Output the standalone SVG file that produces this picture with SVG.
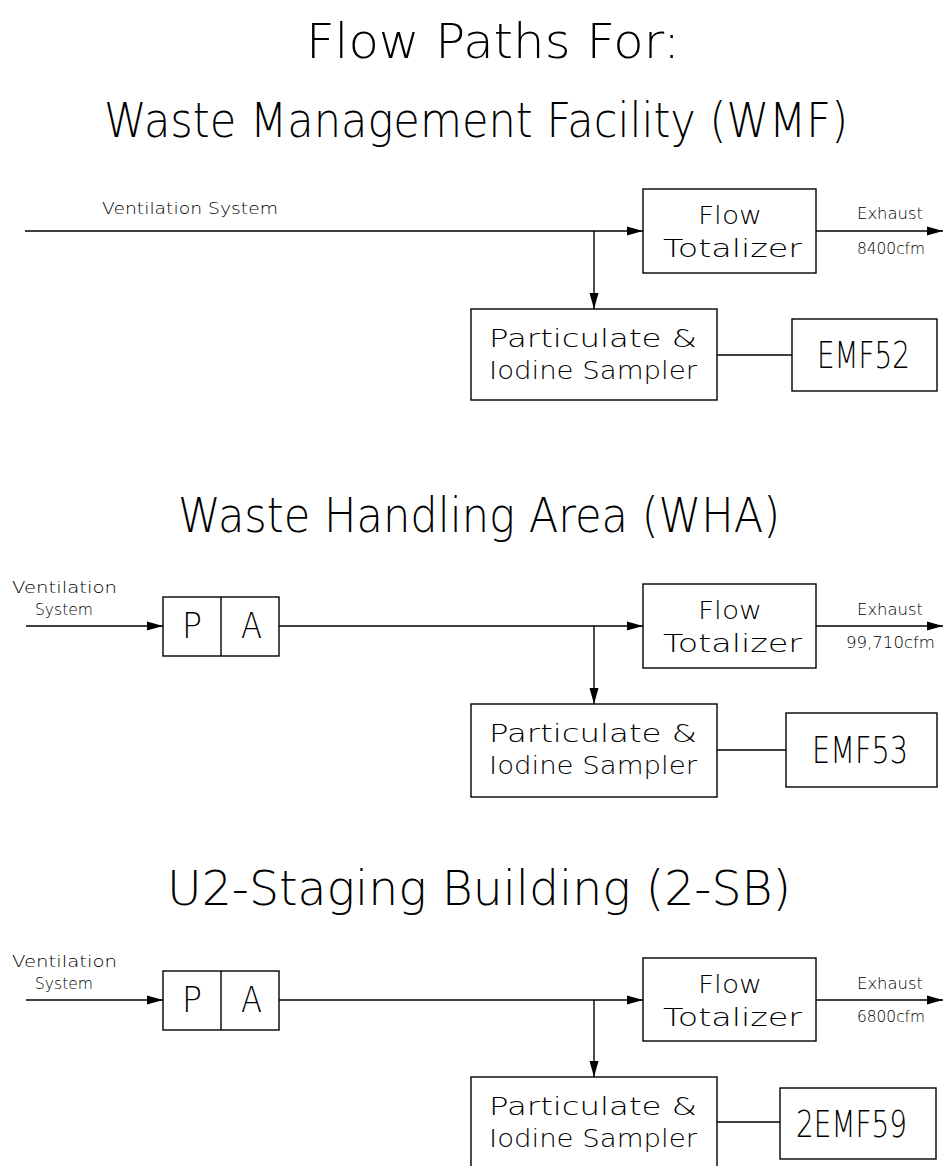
<svg xmlns="http://www.w3.org/2000/svg" width="943" height="1166" viewBox="0 0 943 1166">
<style>
.box{fill:none;stroke:#000;stroke-width:1.4}
.ln{fill:none;stroke:#000;stroke-width:1.4}
.arr{marker-end:url(#ah)}
text{font-family:"DejaVu Sans","Liberation Sans",sans-serif;font-weight:200;fill:#000}
.ttl{font-size:48px}
.bx{font-size:24px}
.em{font-size:37px}
.sm{font-size:15px}
.pa{font-size:36px}
</style>
<defs>
<marker id="ah" markerUnits="userSpaceOnUse" markerWidth="16" markerHeight="10" refX="16" refY="5" orient="auto">
<path d="M0,0.5 L16,5 L0,9.5 z" fill="#000"/>
</marker>
</defs>
<rect width="943" height="1166" fill="#fff"/>

<g id="titles">
<text class="ttl" x="306" y="58" textLength="374" lengthAdjust="spacingAndGlyphs">Flow Paths For:</text>
<text class="ttl" x="104" y="137" textLength="744" lengthAdjust="spacingAndGlyphs">Waste Management Facility (WMF)</text>
<text class="ttl" x="178" y="532" textLength="602" lengthAdjust="spacingAndGlyphs">Waste Handling Area (WHA)</text>
<text class="ttl" x="167" y="905" textLength="624" lengthAdjust="spacingAndGlyphs">U2-Staging Building (2-SB)</text>
</g>

<g id="connectors">
<line class="ln arr" x1="25" y1="231" x2="643" y2="231"/>
<line class="ln arr" x1="594" y1="231" x2="594" y2="309"/>
<line class="ln arr" x1="816" y1="231" x2="943" y2="231"/>
<line class="ln" x1="717" y1="355" x2="792" y2="355"/>
<line class="ln arr" x1="26" y1="626" x2="163" y2="626"/>
<line class="ln arr" x1="279" y1="626" x2="643" y2="626"/>
<line class="ln arr" x1="594" y1="626" x2="594" y2="704"/>
<line class="ln arr" x1="816" y1="626" x2="943" y2="626"/>
<line class="ln" x1="717" y1="750" x2="786" y2="750"/>
<line class="ln arr" x1="26" y1="1000" x2="163" y2="1000"/>
<line class="ln arr" x1="279" y1="1000" x2="643" y2="1000"/>
<line class="ln arr" x1="594" y1="1000" x2="594" y2="1077"/>
<line class="ln arr" x1="816" y1="1000" x2="943" y2="1000"/>
<line class="ln" x1="717" y1="1122" x2="780" y2="1122"/>
</g>

<g id="s1-labels">
<text class="sm" x="102" y="214" textLength="176" lengthAdjust="spacingAndGlyphs">Ventilation System</text>
<text class="sm" x="857" y="219" textLength="66" lengthAdjust="spacingAndGlyphs">Exhaust</text>
<text class="sm" x="857" y="254" textLength="68" lengthAdjust="spacingAndGlyphs">8400cfm</text>
</g>
<g id="s1-flow-totalizer">
<rect class="box" x="643" y="189" width="173" height="84"/>
<text class="bx" x="698" y="224" textLength="64" lengthAdjust="spacingAndGlyphs">Flow</text>
<text class="bx" x="663" y="257" textLength="139" lengthAdjust="spacingAndGlyphs">Totalizer</text>
</g>
<g id="s1-sampler">
<rect class="box" x="471" y="309" width="246" height="91"/>
<text class="bx" x="489" y="347" textLength="208" lengthAdjust="spacingAndGlyphs">Particulate &amp;</text>
<text class="bx" x="489" y="379" textLength="208" lengthAdjust="spacingAndGlyphs">Iodine Sampler</text>
</g>
<g id="s1-emf52">
<rect class="box" x="792" y="319" width="145" height="72"/>
<text class="em" x="817" y="368" textLength="93" lengthAdjust="spacingAndGlyphs">EMF52</text>
</g>

<g id="s2-labels">
<text class="sm" x="12" y="593" textLength="105" lengthAdjust="spacingAndGlyphs">Ventilation</text>
<text class="sm" x="35" y="615" textLength="58" lengthAdjust="spacingAndGlyphs">System</text>
<text class="sm" x="857" y="615" textLength="66" lengthAdjust="spacingAndGlyphs">Exhaust</text>
<text class="sm" x="846" y="648" textLength="89" lengthAdjust="spacingAndGlyphs">99,710cfm</text>
</g>
<g id="s2-pa">
<rect class="box" x="163" y="597" width="116" height="59"/>
<line class="ln" x1="221" y1="597" x2="221" y2="656"/>
<text class="pa" x="182" y="638" textLength="20" lengthAdjust="spacingAndGlyphs">P</text>
<text class="pa" x="241" y="638" textLength="21" lengthAdjust="spacingAndGlyphs">A</text>
</g>
<g id="s2-flow-totalizer">
<rect class="box" x="643" y="584" width="173" height="84"/>
<text class="bx" x="698" y="619" textLength="64" lengthAdjust="spacingAndGlyphs">Flow</text>
<text class="bx" x="663" y="652" textLength="139" lengthAdjust="spacingAndGlyphs">Totalizer</text>
</g>
<g id="s2-sampler">
<rect class="box" x="471" y="704" width="246" height="93"/>
<text class="bx" x="489" y="742" textLength="208" lengthAdjust="spacingAndGlyphs">Particulate &amp;</text>
<text class="bx" x="489" y="774" textLength="208" lengthAdjust="spacingAndGlyphs">Iodine Sampler</text>
</g>
<g id="s2-emf53">
<rect class="box" x="786" y="713" width="151" height="74"/>
<text class="em" x="812" y="763" textLength="96" lengthAdjust="spacingAndGlyphs">EMF53</text>
</g>

<g id="s3-labels">
<text class="sm" x="12" y="967" textLength="105" lengthAdjust="spacingAndGlyphs">Ventilation</text>
<text class="sm" x="35" y="989" textLength="58" lengthAdjust="spacingAndGlyphs">System</text>
<text class="sm" x="857" y="989" textLength="66" lengthAdjust="spacingAndGlyphs">Exhaust</text>
<text class="sm" x="857" y="1022" textLength="68" lengthAdjust="spacingAndGlyphs">6800cfm</text>
</g>
<g id="s3-pa">
<rect class="box" x="163" y="971" width="116" height="59"/>
<line class="ln" x1="221" y1="971" x2="221" y2="1030"/>
<text class="pa" x="182" y="1012" textLength="20" lengthAdjust="spacingAndGlyphs">P</text>
<text class="pa" x="241" y="1012" textLength="21" lengthAdjust="spacingAndGlyphs">A</text>
</g>
<g id="s3-flow-totalizer">
<rect class="box" x="643" y="958" width="173" height="83"/>
<text class="bx" x="698" y="993" textLength="64" lengthAdjust="spacingAndGlyphs">Flow</text>
<text class="bx" x="663" y="1026" textLength="139" lengthAdjust="spacingAndGlyphs">Totalizer</text>
</g>
<g id="s3-sampler">
<rect class="box" x="471" y="1077" width="246" height="95"/>
<text class="bx" x="489" y="1115" textLength="208" lengthAdjust="spacingAndGlyphs">Particulate &amp;</text>
<text class="bx" x="489" y="1147" textLength="208" lengthAdjust="spacingAndGlyphs">Iodine Sampler</text>
</g>
<g id="s3-2emf59">
<rect class="box" x="780" y="1088" width="156" height="71"/>
<text class="em" x="796" y="1137" textLength="111" lengthAdjust="spacingAndGlyphs">2EMF59</text>
</g>
</svg>
